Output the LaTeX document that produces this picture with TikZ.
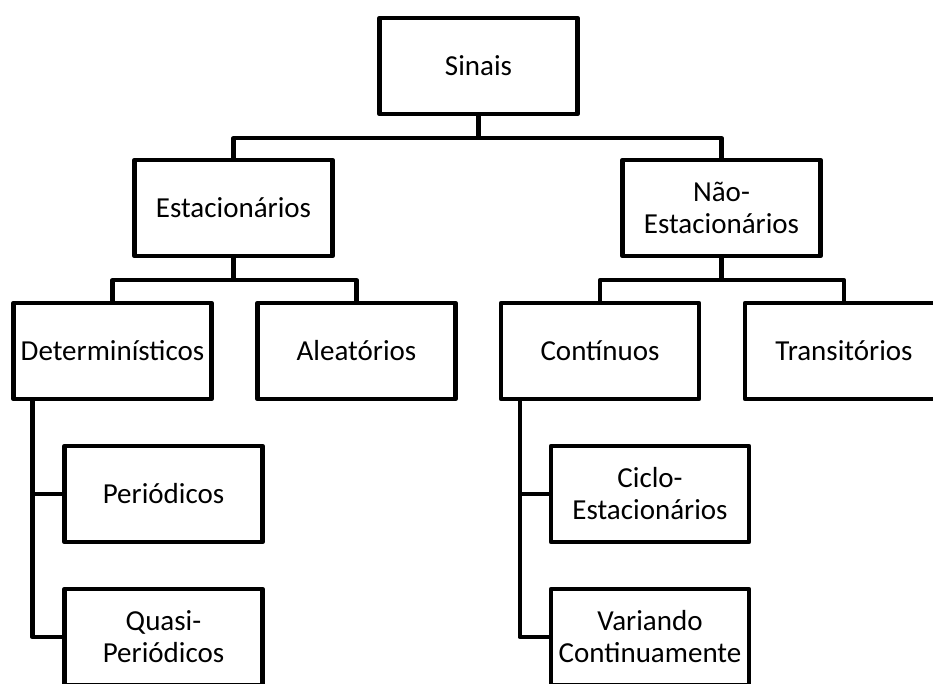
\documentclass[tikz,border=0pt]{standalone}
\usepackage{fontspec}
\setmainfont{Carlito}

\tikzset{
	box/.style={draw, line width=4.5pt, line join=round, minimum width=198pt, minimum height=96pt,
		inner sep=2pt, align=center, font=\fontsize{29}{32}\selectfont},
	link/.style={line width=4.5pt, line join=round}
}

\begin{document}
\begin{tikzpicture}[x=1pt,y=-1pt]

	% Fix the page size
	\clip (0,0) rectangle (933,684);
	\fill[white] (0,0) rectangle (933,684);

	% Draw the boxes
	\node[box] (sinais) at (478.5,66) {Sinais};
	\node[box] (est) at (233.5,208) {Estacionários};
	\node[box] (nest) at (721.5,208) {Não-\\Estacionários};
	\node[box] (det) at (112.5,351) {Determinísticos};
	\node[box] (ale) at (356.5,351) {Aleatórios};
	\node[box] (cont) at (600,351) {Contínuos};
	\node[box] (trans) at (844,351) {Transitórios};
	\node[box] (per) at (163.5,494) {Periódicos};
	\node[box] (quasi) at (163.5,637) {Quasi-\\Periódicos};
	\node[box] (ciclo) at (650,494) {Ciclo-\\Estacionários};
	\node[box] (var) at (650,637) {Variando\\Continuamente};

	% Draw the tree connectors
	\foreach \top/\left/\right in {sinais/est/nest, est/det/ale, nest/cont/trans} {
		\path (\top.south) ++(0,22) coordinate (j-\top);
		\draw[link] (\top.south) -- (j-\top);
		\draw[link] (\left.north) |- (j-\top) -| (\right.north);
	}

	% Draw the side connectors
	\foreach \top/\sub in {det/per, det/quasi, cont/ciclo, cont/var} {
		\draw[link] (\top.south west) ++(21,0) |- (\sub.west);
	}

\end{tikzpicture}
\end{document}
